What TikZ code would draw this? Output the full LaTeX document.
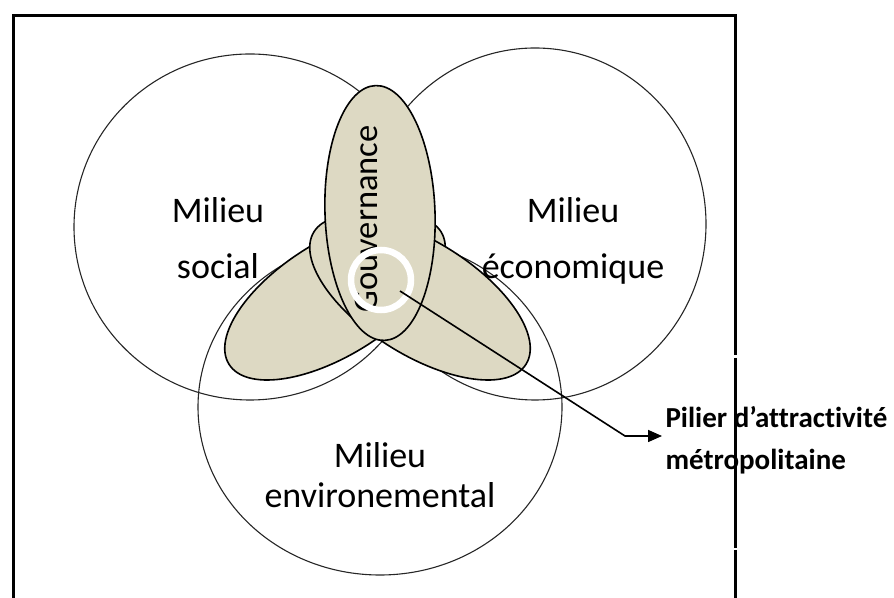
\documentclass[tikz,border=0pt]{standalone}
\usepackage{fontspec}
\setmainfont{Carlito}[Ligatures=NoCommon]
\usetikzlibrary{shapes.geometric,arrows.meta}
\definecolor{petalfill}{RGB}{221,217,195}

\begin{document}
\begin{tikzpicture}[x=1pt,y=1pt]
	\tikzstyle{milieu}=[draw=black!85,ellipse,line width=1.1pt,inner sep=0pt]
	\tikzstyle{petal}=[draw=black,fill=petalfill,ellipse,line width=1.6pt,
	minimum width=250pt,minimum height=114pt,inner sep=0pt]
	\tikzstyle{milieutext}=[font=\fontsize{36}{56}\selectfont,align=center,anchor=base]
	\tikzstyle{frame}=[line width=3pt]
	\useasboundingbox (0,0) rectangle (894,597);
	% the three milieux
	\node[milieu,minimum width=352pt,minimum height=346pt] (social) at (250,370) {};
	\node[milieu,minimum width=342pt,minimum height=352pt] (eco) at (535,373) {};
	\node[milieu,minimum width=364pt,minimum height=336pt] (env) at (380,190) {};
	% petals
	\node[petal,rotate=32] (petalsocial) at (335,299) {};
	\node[petal,rotate=-32] (petaleco) at (420,299) {};
	\node[petal,rotate=92,minimum width=255pt,minimum height=110pt] (gouv) at (380,384) {};
	\node[rotate=90,font=\fontsize{34.5}{40}\selectfont] (gouvtext) at (366,378) {Gouvernance};
	\node[draw=white,circle,line width=6.5pt,minimum size=60pt] (ring) at (381,317) {};
	% labels
	\node[milieutext] (socialtext) at (218,318) {Milieu\\social};
	\node[milieutext] (ecotext) at (573,318) {Milieu\\économique};
	\node[milieutext,font=\fontsize{36}{40}\selectfont] (envtext) at (380,89) {Milieu\\environemental};
	% pilier
	\coordinate (pilier) at (400,306);
	\coordinate (coude) at (625,161);
	\node[font=\bfseries\fontsize{29}{42}\selectfont,align=left,anchor=west] (piliertext) at (662,157) {Pilier d’attractivité\\métropolitaine};
	\draw[line width=1.6pt,-{Triangle[length=14pt,width=12pt]}] (pilier) -- (coude) -- (coude -| piliertext.west);
	% frame
	\draw[frame] (13,-5) -- (13,581) -- (735,581) -- (735,242);
	\draw[frame] (735,239) -- (735,49);
	\draw[frame] (735,47) -- (735,-5);
\end{tikzpicture}
\end{document}
